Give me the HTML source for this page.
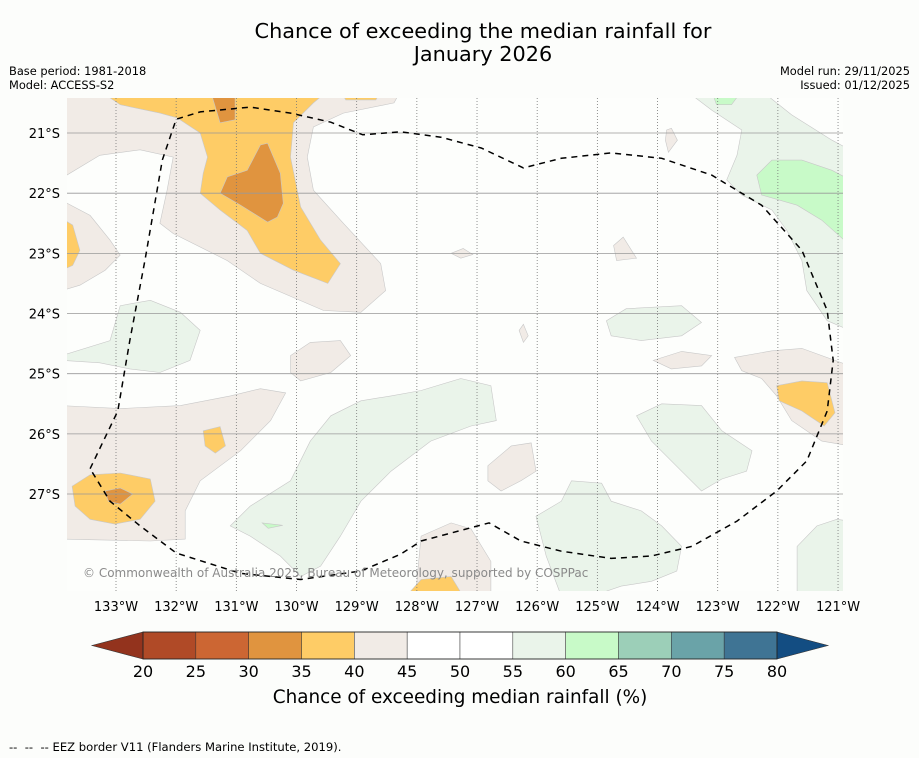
<!DOCTYPE html>
<html><head><meta charset="utf-8"><style>
body{margin:0;background:#fcfdfb;}
svg{display:block;font-family:"DejaVu Sans","Liberation Sans",sans-serif;}
</style></head><body>
<svg id="c" width="919" height="758" viewBox="0 0 919 758">
<rect width="919" height="758" fill="#fcfdfb"/>
<text x="483" y="38" font-size="20.8" text-anchor="middle" fill="#000">Chance of exceeding the median rainfall for</text>
<text x="483" y="61" font-size="20.8" text-anchor="middle" fill="#000">January 2026</text>
<text x="9" y="75" font-size="11.4">Base period: 1981-2018</text>
<text x="9" y="89" font-size="11.4">Model: ACCESS-S2</text>
<text x="910" y="75" font-size="11.4" text-anchor="end">Model run: 29/11/2025</text>
<text x="910" y="89" font-size="11.4" text-anchor="end">Issued: 01/12/2025</text>
<defs><clipPath id="mc"><rect x="67" y="98" width="776" height="493"/></clipPath></defs>
<g id="map" clip-path="url(#mc)">
<rect x="67" y="98" width="776" height="493" fill="#fdfefc"/>
</g>
<g id="axes"></g>
<text x="83" y="577" font-size="12" fill="#8a8a8a">© Commonwealth of Australia 2025, Bureau of Meteorology, supported by COSPPac</text>
<g id="cbar"></g>
<text x="460" y="703" font-size="18.4" text-anchor="middle">Chance of exceeding median rainfall (%)</text>
<text x="9" y="751" font-size="11.6" style="white-space:pre" xml:space="preserve">--  --  -- EEZ border V11 (Flanders Marine Institute, 2019).</text>
</svg>
<script>
// axis data
const lonTicks=[133,132,131,130,129,128,127,126,125,124,123,122,121];
const latTicks=[21,22,23,24,25,26,27];
const cbLevels=[20,25,30,35,40,45,50,55,60,65,70,75,80];
const cbColors=["#b04a27","#cc6633","#e0943f","#fecc66","#f1ebe6","#ffffff","#ffffff","#eaf4ea","#c8fac8","#9ccfb8","#6aa3a8","#3f7494"];
const cbUnder="#93331d", cbOver="#134d82";
const regBeige=[
[[133.9,20.3],[128.27,20.3],[128.38,20.5],[129.22,20.67],[129.72,20.9],[129.82,21.4],[129.72,21.95],[129.22,22.5],[128.6,23.17],[128.52,23.62],[128.93,23.98],[129.55,23.95],[130.6,23.5],[131.15,23.12],[132.05,22.67],[132.27,22.5],[132.15,21.95],[132.05,21.4],[132.6,21.28],[133.27,21.37],[133.9,21.75]],
[[133.9,22.12],[133.43,22.37],[133.1,22.78],[132.93,23.03],[133.18,23.28],[133.6,23.53],[133.9,23.62]],
[[130.1,24.7],[129.77,24.48],[129.27,24.45],[129.1,24.7],[129.43,24.98],[129.93,25.12],[130.1,24.98]],
[[133.9,25.53],[132.93,25.58],[131.93,25.53],[131.1,25.37],[130.6,25.25],[130.18,25.32],[130.43,25.78],[130.93,26.28],[131.6,26.78],[131.85,27.28],[131.85,27.75],[132.43,27.78],[133.9,27.75]],
[[126.82,26.53],[126.43,26.2],[126.1,26.15],[126.02,26.62],[126.27,26.78],[126.6,26.95],[126.82,26.78]],
[[127.93,27.7],[127.43,27.48],[127.1,27.58],[126.77,28.12],[126.77,28.7],[128.02,28.7],[127.97,28.12]],
[[124.07,24.78],[123.6,24.63],[123.1,24.7],[123.27,24.87],[123.77,24.92]],
[[122.72,24.73],[122.1,24.62],[121.6,24.58],[120.8,24.87],[120.8,26.2],[121.27,26.12],[121.77,25.78],[122.02,25.37],[122.27,25.08],[122.6,24.95]],
[[124.73,22.87],[124.57,22.73],[124.35,23.08],[124.68,23.12]],
[[127.43,23],[127.23,22.92],[127.07,23.02],[127.27,23.08]],
[[126.3,24.28],[126.23,24.18],[126.15,24.37],[126.23,24.48]],
[[123.85,20.95],[123.77,20.92],[123.67,21.12],[123.82,21.32],[123.87,21.12]]
];
const regOrange=[
[[133.27,20.3],[132.93,20.53],[132.27,20.67],[131.98,20.75],[131.6,21],[131.48,21.4],[131.55,21.67],[131.6,22],[131.27,22.28],[130.82,22.62],[130.6,23],[130.05,23.28],[129.48,23.5],[129.27,23.17],[129.6,22.78],[129.93,22.23],[130.1,21.4],[130.05,20.83],[129.72,20.5],[129.48,20.3]],
[[129.27,20.3],[128.6,20.3],[128.68,20.45],[129.18,20.45]],
[[133.9,22.42],[133.72,22.53],[133.6,22.95],[133.72,23.2],[133.9,23.28]],
[[133.73,26.87],[133.43,26.68],[132.93,26.65],[132.43,26.75],[132.35,27.12],[132.6,27.42],[133.02,27.5],[133.43,27.42],[133.68,27.2]],
[[131.55,25.95],[131.27,25.88],[131.18,26.2],[131.35,26.32],[131.52,26.2]],
[[128.18,28.7],[127.93,28.42],[127.43,28.37],[127.23,28.7]],
[[122.02,25.2],[121.6,25.12],[121.18,25.15],[121.05,25.65],[121.23,25.87],[121.6,25.62],[121.98,25.45]]
];
const regDark=[
[[131.27,22],[131.15,21.73],[130.82,21.62],[130.6,21.2],[130.48,21.17],[130.27,21.67],[130.22,22.17],[130.32,22.4],[130.48,22.48],[130.93,22.2]],
[[131.43,20.3],[131.02,20.3],[131.02,20.78],[131.27,20.83]],
[[133.18,26.95],[132.93,26.9],[132.72,27],[132.93,27.17],[133.13,27.12]]
];
const regGreen=[
[[133.9,24.7],[133.1,24.45],[132.93,23.87],[132.43,23.78],[131.93,23.98],[131.6,24.28],[131.77,24.78],[132.27,24.98],[132.77,24.92],[133.27,24.82],[133.9,24.78]],
[[131.1,27.53],[130.77,27.2],[130.1,26.78],[129.77,26.12],[129.43,25.7],[128.93,25.45],[128.43,25.37],[127.93,25.28],[127.27,25.08],[126.77,25.2],[126.68,25.78],[127.1,25.87],[127.77,26.12],[128.43,26.62],[128.93,27.12],[129.27,27.7],[129.6,28.2],[129.93,28.37],[130.27,28.03],[130.77,27.7]],
[[126.02,27.37],[125.6,27.12],[125.43,26.78],[124.93,26.82],[124.77,27.12],[124.27,27.28],[123.93,27.53],[123.6,27.87],[123.68,28.28],[124.1,28.45],[124.6,28.53],[125.1,28.7],[125.6,28.7],[125.85,28.03]],
[[124.35,25.7],[123.93,25.5],[123.27,25.53],[122.93,25.95],[122.43,26.28],[122.52,26.62],[122.93,26.75],[123.27,26.95],[123.6,26.62],[124.1,26.12]],
[[124.85,24.12],[124.52,23.92],[123.6,23.87],[123.27,24.15],[123.6,24.37],[124.27,24.45],[124.77,24.37]],
[[123.52,20.3],[122.27,20.3],[121.77,20.7],[121.1,21.12],[120.8,21.28],[120.8,24.28],[121.18,24.12],[121.52,23.62],[121.6,23.12],[121.85,22.62],[122.1,22.28],[122.6,22.03],[122.85,21.78],[122.68,21.37],[122.6,20.95],[123.1,20.62]],
[[121.68,27.87],[121.35,27.53],[121.02,27.42],[120.8,27.45],[120.8,28.7],[121.68,28.7]]
];
const regLight=[
[[122.35,21.7],[122.1,21.45],[121.6,21.45],[121.1,21.62],[120.8,21.78],[120.8,22.87],[121.27,22.45],[121.68,22.2],[122.27,22.03]],
[[123.1,20.3],[122.6,20.3],[122.77,20.53],[123.02,20.53]],
[[130.57,27.48],[130.23,27.52],[130.47,27.57]]
];
const eez=[[133.43,26.58],[132.97,25.62],[132.77,24.45],[132.52,23.12],[132.23,21.45],[132,20.77],[131.6,20.65],[130.77,20.57],[130.1,20.67],[129.43,20.82],[128.9,21.03],[128.27,20.98],[127.6,21.07],[126.93,21.25],[126.23,21.58],[125.6,21.42],[124.77,21.33],[123.93,21.42],[123.1,21.7],[122.27,22.2],[121.6,22.95],[121.18,23.95],[121.08,24.78],[121.18,25.62],[121.52,26.45],[122.02,26.95],[122.68,27.45],[123.43,27.87],[124.1,28.03],[124.77,28.07],[125.6,27.95],[126.27,27.78],[126.8,27.48],[127.93,27.78],[128.27,28],[128.93,28.28],[129.93,28.42],[130.93,28.32],[132,27.98],[132.6,27.53],[133.1,27.12],[133.43,26.58]];

const NS="http://www.w3.org/2000/svg";
const xS=lon=>116+(133-lon)*60.17;
const yS=lat=>133+(lat-21)*60.17;
const cbX=v=>143+(v-20)*(777-143)/60;
function mk(tag,attrs,parent){const e=document.createElementNS(NS,tag);for(const k in attrs)e.setAttribute(k,attrs[k]);parent.appendChild(e);return e;}
const map=document.getElementById('map'),axes=document.getElementById('axes'),cb=document.getElementById('cbar');
const pts=p=>p.map(q=>xS(q[0]).toFixed(1)+","+yS(q[1]).toFixed(1)).join(" ");
function drawSet(set,fill,name){set.forEach(p=>{const e=mk('polygon',{points:pts(p),fill:fill,stroke:'#c8c8c8','stroke-width':0.6},map);

});}
drawSet(regBeige,cbColors[4],'region-40-45');
drawSet(regGreen,cbColors[7],'region-55-60');
drawSet(regLight,cbColors[8],'region-60-65');
drawSet(regOrange,cbColors[3],'region-35-40');
drawSet(regDark,cbColors[2],'region-30-35');
lonTicks.forEach(l=>{const e=mk('line',{x1:xS(l),x2:xS(l),y1:98,y2:591,stroke:'#777','stroke-width':0.8,'stroke-dasharray':'1,2'},map);


const t=mk('text',{x:xS(l),y:611,'font-size':13,'text-anchor':'middle'},axes);t.textContent=l+"°W";

});
latTicks.forEach(l=>{const e=mk('line',{x1:67,x2:843,y1:yS(l),y2:yS(l),stroke:'#999','stroke-width':0.8},map);


const t=mk('text',{x:60,y:yS(l)+5,'font-size':13,'text-anchor':'end'},axes);t.textContent=l+"°S";

});
const ez=mk('polyline',{points:pts(eez),fill:'none',stroke:'#000','stroke-width':1.5,'stroke-dasharray':'6,5'},map);


const y0=632,y1=659;
for(let i=0;i<cbColors.length;i++){const r=mk('rect',{x:cbX(cbLevels[i]),y:y0,width:cbX(cbLevels[i+1])-cbX(cbLevels[i]),height:y1-y0,fill:cbColors[i],stroke:'#333','stroke-width':0.5},cb);

}
const u=mk('polygon',{points:`${cbX(20)},${y0} ${cbX(20)},${y1} 92,${(y0+y1)/2}`,fill:cbUnder,stroke:'#333','stroke-width':0.6},cb);


const o=mk('polygon',{points:`${cbX(80)},${y0} ${cbX(80)},${y1} 828,${(y0+y1)/2}`,fill:cbOver,stroke:'#333','stroke-width':0.6},cb);


mk('rect',{x:cbX(20),y:y0,width:cbX(80)-cbX(20),height:y1-y0,fill:'none',stroke:'#222','stroke-width':0.8},cb);
cbLevels.forEach(v=>{const t=mk('text',{x:cbX(v),y:677,'font-size':16,'text-anchor':'middle'},cb);t.textContent=v;

});
</script>
</body></html>
